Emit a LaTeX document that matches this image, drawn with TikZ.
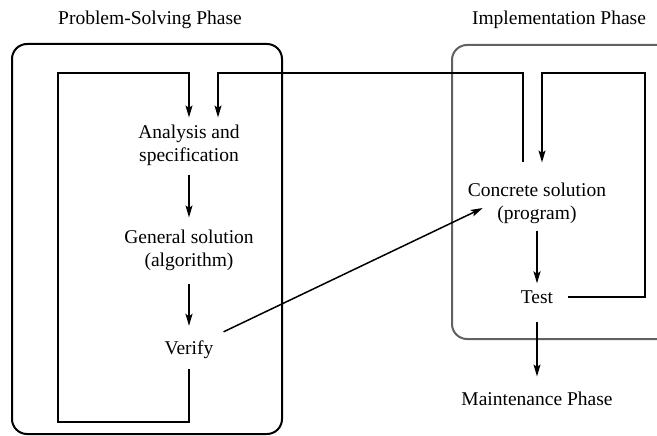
\documentclass[tikz,border=0pt]{standalone}
\usepackage{fontspec}
\setmainfont{Liberation Serif}
\usetikzlibrary{arrows.meta}
\begin{document}
\begin{tikzpicture}[x=1pt,y=-1pt,
  txt/.style={inner sep=0pt,align=center,font=\fontsize{19.5}{23}\selectfont},
  conn/.style={line width=1.5pt,black},
  arr/.style={conn,-{Stealth[length=12pt,width=7pt,inset=2.5pt]}},
  phasebox/.style={line width=2pt,rounded corners=15pt}]
\clip (0,0) rectangle (657,436);
\fill[white] (0,0) rectangle (657,436);
% phase boxes
\draw[phasebox,black] (12,44) rectangle (282,434);
\draw[phasebox,black!62] (452,45) rectangle (700,339);
% titles
\node[txt] (t1) at (150,20) {Problem-Solving Phase};
\node[txt] (t2) at (559,20) {Implementation Phase};
% steps
\node[txt] (ana) at (189,145) {Analysis and\\specification};
\node[txt] (gen) at (189,250) {General solution\\(algorithm)};
\node[txt] (ver) at (189,350) {Verify};
\node[txt] (con) at (537,203) {Concrete solution\\(program)};
\node[txt] (tst) at (537,297) {Test};
\node[txt] (mnt) at (537,398.5) {Maintenance Phase};
% loop corners
\coordinate (lbl) at (58,422);
\coordinate (ltl) at (58,73);
\coordinate (rbr) at (645,297);
\coordinate (rtr) at (645,73);
% connectors
\draw[arr,shorten <=10pt,shorten >=7pt] (ver.south) |- (lbl) -- (ltl) -| (ana.north);
\draw[arr,shorten <=20pt,shorten >=7pt] ([xshift=-14pt]con.north) |- ([xshift=29pt]ana.north |- ltl) -- ([xshift=29pt]ana.north);
\draw[arr,shorten <=15pt,shorten >=20pt] (tst.east) -- (rbr) -- (rtr) -| ([xshift=5pt]con.north);
\draw[arr,shorten <=9pt,shorten >=12pt] (ana.south) -- (gen.north);
\draw[arr,shorten <=13pt,shorten >=15pt] (gen.south) -- (ver.north);
\draw[arr] ([shift={(10pt,9pt)}]ver.north east) -- ([shift={(15pt,-5pt)}]con.west);
\draw[arr,shorten <=7pt,shorten >=7pt] (con.south) -- (tst.north);
\draw[arr,shorten <=18pt,shorten >=15pt] (tst.south) -- (mnt.north);
\end{tikzpicture}
\end{document}
